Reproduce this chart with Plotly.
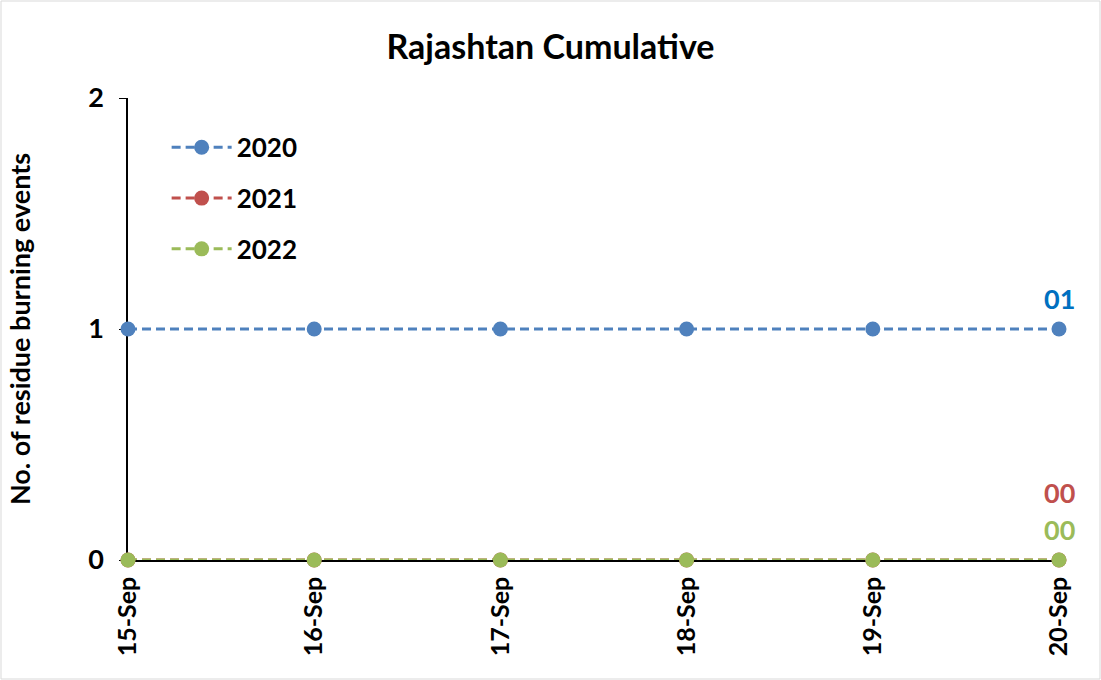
import plotly.graph_objects as go

dates = ["15-Sep", "16-Sep", "17-Sep", "18-Sep", "19-Sep", "20-Sep"]
years = ["2020", "2021", "2022"]
v2020 = [1, 1, 1, 1, 1, 1]
v2021 = [0, 0, 0, 0, 0, 0]
v2022 = [0, 0, 0, 0, 0, 0]
y_ticks = [0, 1, 2]

series = [v2020, v2021, v2022]
line_colors = ["#4F81BD", "#C0504D", "#9BBB59"]
label_colors = ["#0070C0", "#C0504D", "#9BBB59"]
label_shift = [31, 68, 31]

FONT = "Lato"

fig = go.Figure()
for i, (name, vals) in enumerate(zip(years, series)):
    fig.add_trace(go.Scatter(
        x=dates, y=vals, name=f"<b>{name}</b>", mode="lines+markers",
        line=dict(color=line_colors[i], width=3, dash="9px,5px"),
        marker=dict(color=line_colors[i], size=15),
        cliponaxis=False, legendgroup=name,
    ))

for i, vals in enumerate(series):
    fig.add_annotation(
        x=dates[-1], y=vals[-1], text=f"<b>{vals[-1]:02d}</b>", showarrow=False,
        yshift=label_shift[i], xanchor="center", yanchor="middle",
        font=dict(family=FONT, size=27, color=label_colors[i]),
    )

W, H = 1101, 680
L, R, T, B = 128, 42, 98, 120
pw, ph = W - L - R, H - T - B
fig.add_shape(type="rect", xref="paper", yref="paper",
              x0=(-L + 1) / pw, x1=(pw + R - 1) / pw,
              y0=(-B + 1) / ph, y1=(ph + T - 1) / ph,
              line=dict(color="#D9D9D9", width=1), layer="below")

fig.update_layout(
    width=W, height=H,
    margin=dict(l=L, r=R, t=T, b=B),
    paper_bgcolor="white", plot_bgcolor="white",
    font=dict(family=FONT, color="black"),
    title=dict(text="<b>Rajashtan Cumulative</b>", x=0.5, xanchor="center",
               y=1 - 47 / H, yanchor="middle", font=dict(size=34, family=FONT)),
    showlegend=True,
    legend=dict(x=0.0415, y=0.944, xanchor="left", yanchor="top",
                bgcolor="rgba(0,0,0,0)", tracegroupgap=14,
                font=dict(size=26, family=FONT, color="black"),
                itemwidth=60),
    xaxis=dict(type="category", range=[0, len(dates) - 1], tickangle=-90,
               tickvals=dates, ticktext=[f"<b>{d}</b>" for d in dates],
               showline=True, linecolor="black", linewidth=1.5,
               ticks="outside", ticklen=5, tickcolor="black",
               tickfont=dict(size=25, family=FONT), showgrid=False,
               layer="below traces", zeroline=False),
    yaxis=dict(range=[0, 2], tickvals=y_ticks, ticktext=[f"<b>{t}</b>" for t in y_ticks],
               showline=True, linecolor="black", linewidth=1.5,
               ticks="outside", ticklen=7, tickcolor="black", ticklabelstandoff=10,
               tickfont=dict(size=27, family=FONT), showgrid=False, zeroline=False,
               layer="below traces",
               title=dict(text="<b>No. of residue burning events</b>",
                          font=dict(size=27, family=FONT), standoff=50)),
)

fig.write_html("out.html", config={"displayModeBar": False},
               post_script="document.body.style.margin='0';")
